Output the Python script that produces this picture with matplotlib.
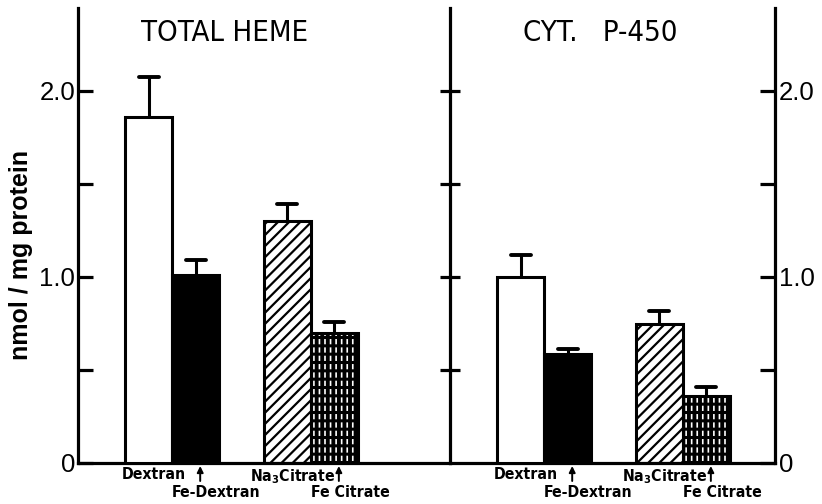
import matplotlib
matplotlib.use("Agg")
import matplotlib.pyplot as plt
import matplotlib.transforms as mtransforms
from matplotlib import font_manager as fm
import numpy as np

# ---- data -------------------------------------------------------------
panels = ["TOTAL HEME", "CYT.   P-450"]
treatments = ["Dextran", "Fe-Dextran", "Na$_{\\mathregular{3}}$Citrate", "Fe Citrate"]
heme_means = [1.86, 1.01, 1.30, 0.70]
heme_sem = [0.215, 0.08, 0.09, 0.06]
p450_means = [1.00, 0.585, 0.75, 0.36]
p450_sem = [0.12, 0.03, 0.065, 0.05]
yticks_major = [0, 1.0, 2.0]
yticklabels = ["0", "1.0", "2.0"]
yticks_minor = [0.5, 1.5]


# ---- fonts: prefer a narrow face for the labels -----------------------
def find_face(keys, bold):
    for key in keys:
        for f in fm.fontManager.ttflist:
            name = f.fname.replace("-", "").replace("_", "").lower()
            if key in name:
                isbold = ("bold" in name) and ("semi" not in name) and ("extra" not in name)
                if isbold == bold and "italic" not in name and "oblique" not in name:
                    return fm.FontProperties(fname=f.fname)
    return None


narrow_bold = find_face(["liberationsansnarrowbold", "dejavusanscondensedbold",
                         "notosanscondensedbold", "opensanscondensedbold"], True)
narrow_reg = find_face(["liberationsansnarrowregular", "liberationsansnarrow.",
                        "dejavusanscondensed.", "notosanscondensedregular",
                        "notosanscondensed."], False)

W, H, DPI = 822, 504, 100
fig = plt.figure(figsize=(W / DPI, H / DPI), dpi=DPI)
fig.patch.set_facecolor("white")


def fprops(base, fallback_family, weight, size):
    if base is not None:
        p = base.copy()
        p.set_size(size)
        return p
    return fm.FontProperties(family=fallback_family, weight=weight, size=size)


lab_fp = fprops(narrow_bold, "Liberation Sans", "bold", 11.3 if narrow_bold else 10)
title_fp = fprops(narrow_reg, "Liberation Sans", "normal", 21 if narrow_reg else 18.5)
tick_fp = fm.FontProperties(family="Liberation Sans", size=18.5)
ylab_fp = fm.FontProperties(family="Liberation Sans", weight="bold", size=18)

# ---- layout -----------------------------------------------------------
x_left, x_mid, x_right = 78, 450, 775      # pixel positions of vertical axes
y_base, y_top = 463, 8
unit = 47.0                                  # pixels per bar width
ylim = (0, (y_base - y_top) / 186.0)
LW = 2.3


def fx(px):
    return px / W


ax1 = fig.add_axes([fx(x_left), 1 - y_base / H, fx(x_mid - x_left), (y_base - y_top) / H])
ax2 = fig.add_axes([fx(x_mid), 1 - y_base / H, fx(x_right - x_mid), (y_base - y_top) / H])
ax1.set_xlim(0, (x_mid - x_left) / unit)
ax2.set_xlim(0, (x_right - x_mid) / unit)
for ax in (ax1, ax2):
    ax.set_ylim(*ylim)
    ax.set_facecolor("none")
    ax.spines["top"].set_visible(False)
    ax.set_xticks([])
    for s in ax.spines.values():
        s.set_linewidth(LW)

# left axis
ax1.spines["right"].set_visible(False)
ax1.set_yticks(yticks_major)
ax1.set_yticklabels(yticklabels, fontproperties=tick_fp)
ax1.set_yticks(yticks_minor, minor=True)
ax1.tick_params(axis="y", which="both", direction="in", length=11, width=LW, pad=2)

# divider between the panels, ticked on both sides
sec = ax1.secondary_yaxis("right")
sec.set_yticks(yticks_major[1:] + yticks_minor)
sec.tick_params(axis="y", direction="inout", length=14, width=LW, labelright=False)
sec.spines["right"].set_linewidth(LW)

# right axis
ax2.spines["left"].set_visible(False)
ax2.yaxis.tick_right()
ax2.set_yticks(yticks_major)
ax2.set_yticklabels(yticklabels, fontproperties=tick_fp)
ax2.set_yticks(yticks_minor, minor=True)
ax2.tick_params(axis="y", which="both", direction="in", length=11, width=LW, pad=3,
                left=False, right=True)

ax1.set_ylabel("nmol / mg protein", fontproperties=ylab_fp)
ax1.yaxis.set_label_coords((33 - x_left) / (x_mid - x_left),
                           (y_base - 255) / (y_base - y_top))

# ---- bars ---------------------------------------------------------------
pos = np.array([1.5, 2.5, 4.45, 5.45])
cap_half = 10 / unit


def hatched_bar(ax, x, h, face, hatch, hatch_color, hatch_lw, zorder):
    with plt.rc_context({"hatch.linewidth": hatch_lw, "hatch.color": hatch_color}):
        b = ax.bar(x, h, width=1.0, color=face, edgecolor=hatch_color,
                   linewidth=0, hatch=hatch, zorder=zorder)
    for p in b:
        if hasattr(p, "set_hatch_linewidth"):
            p.set_hatch_linewidth(hatch_lw)
    return b


def draw_panel(ax, means, sem, title, title_x):
    # Dextran: open bar
    ax.bar(pos[0], means[0], width=1.0, color="white", edgecolor="black",
           linewidth=2.2, zorder=3)
    # Fe-Dextran: solid bar
    ax.bar(pos[1], means[1], width=1.0, color="black", edgecolor="black",
           linewidth=2.2, zorder=3)
    # Na3 citrate: diagonal lines
    hatched_bar(ax, pos[2], means[2], "white", "///", "black", 1.6, 2)
    ax.bar(pos[2], means[2], width=1.0, color="none", edgecolor="black",
           linewidth=2.2, zorder=3)
    # Fe citrate: white dashes on black
    hatched_bar(ax, pos[3], means[3], "black", "|||", "white", 1.2, 2)
    hatched_bar(ax, pos[3], means[3], "none", "--", "black", 2.2, 2.5)
    ax.bar(pos[3], means[3], width=1.0, color="none", edgecolor="black",
           linewidth=2.2, zorder=3)

    # upper error bars only
    tops = np.array(means) + np.array(sem)
    ax.vlines(pos, means, tops, color="black", lw=2.2, zorder=4)
    ax.hlines(tops, pos - cap_half, pos + cap_half, color="black", lw=2.8,
              zorder=4, capstyle="round")

    ax.text(title_x, 2.31, title, ha="center", va="center", fontproperties=title_fp)

    blend = mtransforms.blended_transform_factory(ax.transData, ax.transAxes)
    py = 1.0 / (y_base - y_top)
    # first label under each pair, second one below with an arrow to its bar
    for i, j in ((0, 1), (2, 3)):
        ax.text(pos[i] + 0.12, -4 * py, treatments[i], transform=blend,
                ha="center", va="top", fontproperties=lab_fp)
        ax.text(pos[j] - 0.5, -22 * py, treatments[j], transform=blend,
                ha="left", va="top", fontproperties=lab_fp)
        ax.annotate("", xy=(pos[j] + 0.1, -3 * py), xycoords=blend,
                    xytext=(pos[j] + 0.1, -18 * py), textcoords=blend,
                    arrowprops=dict(arrowstyle="-|>", lw=1.4, color="black",
                                    mutation_scale=9, shrinkA=0, shrinkB=0),
                    annotation_clip=False)


draw_panel(ax1, heme_means, heme_sem, panels[0], (225 - x_left) / unit)
draw_panel(ax2, p450_means, p450_sem, panels[1], (600 - x_mid) / unit)

fig.savefig("out.png", dpi=DPI, facecolor="white")
